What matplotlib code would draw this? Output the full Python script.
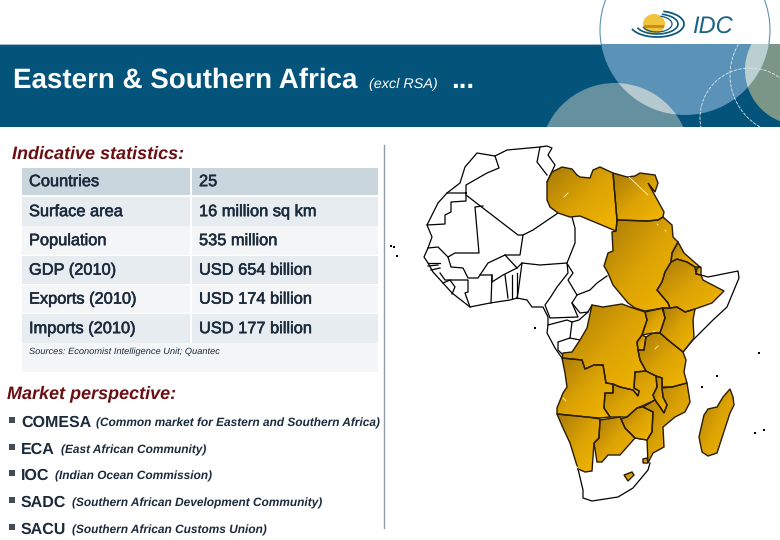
import numpy as np
import matplotlib
matplotlib.use("Agg")
import matplotlib.pyplot as plt
import matplotlib.patheffects as pe
from matplotlib.colors import LinearSegmentedColormap
from matplotlib.patches import Circle, Ellipse, Polygon, Rectangle

plt.rcParams["font.family"] = ["Liberation Sans", "DejaVu Sans"]
plt.rcParams["text.hinting"] = "no_hinting"

# slide text
TITLE = "Eastern & Southern Africa"
TITLE_NOTE = "(excl RSA)"
TABLE_HEADING = "Indicative statistics:"
STAT_LABELS = ["Countries", "Surface area", "Population", "GDP (2010)", "Exports (2010)", "Imports (2010)"]
STAT_VALUES = ["25", "16 million sq km", "535 million", "USD 654 billion", "USD 174 billion", "USD 177 billion"]
SOURCE = "Sources: Economist Intelligence Unit; Quantec"
MARKET_HEADING = "Market perspective:"
BLOCS = ["COMESA", "ECA", "IOC", "SADC", "SACU"]
BLOC_NAMES = ["(Common market for Eastern and Southern Africa)", "(East African Community)",
              "(Indian Ocean Commission)", "(Southern African Development Community)",
              "(Southern African Customs Union)"]

# map outlines in pixels
LIBYA = [(547,182),(552,172),(562,167),(572,169),(577,175),(580,177),(590,178),(593,170),(600,167),(613,173),
         (617,220),(616,231),(580,216),(570,217),(558,213),(550,207),(547,200)]
EGYPT = [(613,173),(627,177),(635,176),(640,173),(655,175),(658,183),(655,192),(648,183),(664,212),(663,217),
         (658,220),(647,221),(617,220)]
SUDAN = [(617,220),(647,221),(658,220),(663,217),(672,225),(673,237),(678,242),(672,253),(671,262),(665,272),
         (662,282),(657,290),(668,303),(670,308),(663,308),(645,311),(635,308),(628,303),(613,285),(608,273),
         (604,266),(608,253),(613,251),(612,232),(616,231)]
ERITREA = [(678,242),(684,253),(700,267),(695,267),(687,262),(677,259),(671,262),(672,253)]
DJIBOUTI = [(697,268),(701,267),(701,275),(696,274)]
ETHIOPIA = [(677,259),(687,262),(695,267),(696,274),(701,275),(703,280),(724,291),(712,303),(695,309),(685,312),
            (677,307),(670,308),(668,303),(657,290),(662,282),(665,272),(671,262)]
KENYA = [(662,308),(670,308),(677,307),(685,312),(695,309),(693,320),(694,338),(683,352),(668,340),(660,333),(665,318)]
UGANDA = [(645,312),(663,308),(665,318),(660,333),(653,333),(642,335),(647,320)]
RWANDA_BURUNDI = [(642,335),(646,337),(645,343),(644,350),(638,350),(637,342)]
DRC = [(592,305),(603,307),(622,304),(630,307),(645,312),(647,320),(642,335),(637,342),(638,350),(640,360),
       (646,371),(635,372),(634,388),(639,391),(638,396),(633,390),(620,387),(613,384),(606,383),(603,365),
       (594,365),(585,369),(582,360),(562,358),(563,353),(572,352),(580,340),(587,328)]
TANZANIA = [(660,333),(668,340),(683,352),(686,360),(684,372),(687,383),(672,387),(662,387),(662,378),(656,376),
            (646,371),(640,360),(638,350),(644,350),(645,343),(646,337),(653,333)]
ZAMBIA = [(635,372),(646,371),(656,376),(657,387),(653,395),(655,400),(642,406),(637,408),(627,417),(618,417),
          (610,417),(604,408),(605,393),(613,393),(613,384),(620,387),(633,390),(638,396),(639,391),(634,388)]
MALAWI = [(656,376),(662,378),(662,388),(663,397),(667,405),(664,413),(660,407),(655,400),(653,395),(657,387)]
MOZAMBIQUE = [(687,383),(690,402),(685,412),(675,417),(663,427),(664,447),(653,453),(648,463),(647,440),(652,432),
              (653,412),(643,407),(655,400),(660,407),(664,413),(667,405),(663,397),(662,388),(672,387)]
ZIMBABWE = [(643,407),(653,412),(652,432),(647,440),(635,438),(625,428),(621,419),(627,417),(637,408)]
BOTSWANA = [(600,420),(620,417),(621,419),(625,428),(635,438),(620,455),(608,455),(602,462),(597,462),(594,443),(599,438)]
NAMIBIA = [(557,414),(587,417),(600,419),(599,438),(594,443),(592,471),(585,472),(578,469),(570,443),(563,428)]
ANGOLA = [(562,358),(582,360),(585,369),(594,365),(603,365),(606,383),(613,384),(613,393),(605,393),(604,408),
          (610,417),(600,418),(587,417),(557,414),(557,408),(563,393),(567,387),(565,373)]
LESOTHO = [(624,475),(632,472),(634,475),(628,481)]
SWAZILAND = [(643,459),(647,458),(648,463),(643,463)]
MADAGASCAR = [(730,389),(733,397),(734,405),(730,413),(717,453),(708,456),(702,452),(699,437),(704,415),(708,409),
              (717,407),(723,397)]

# white countries, thin black lines only
WEST_LINES = [
    [(447,193),(460,183),(465,167),(477,153),(495,156),(507,150),(540,147),(547,146),(552,148),(548,155),(555,165),(547,182)],
    [(540,147),(537,162),(547,175)],
    [(495,156),(499,168),(487,173),(466,185),(466,201),(451,202),(451,212),(445,215),(445,224),(427,225),(438,203),(447,193),(466,193)],
    [(466,195),(518,235),(523,235),(533,230),(558,213)],
    [(483,206),(475,207),(479,253),(455,253),(448,257),(451,267),(463,268),(468,278),(478,278),(488,263),(505,255),(520,255),(523,235)],
    [(427,225),(432,237),(428,248),(438,247),(448,257)],
    [(428,248),(424,257),(428,263),(433,272),(443,283),(452,293),(470,307),(490,303),(510,300),(517,298),(527,300),(532,307),(543,307),(548,317),(548,325),(547,333),(555,348),(562,358)],
    [(505,255),(517,268),(522,263),(540,265),(567,263),(575,243),(575,228),(572,217)],
    [(480,275),(492,275),(492,282),(503,275),(517,268)],
    [(492,275),(491,303)],
    [(505,275),(508,298)],
    [(512,275),(512,298)],
    [(517,273),(517,298)],
    [(440,273),(445,280),(468,280),(468,292),(465,293),(470,307)],
    [(443,283),(450,280),(455,287),(452,294)],
    [(522,263),(518,293),(517,298)],
    [(567,263),(568,273),(557,287),(550,298),(545,305),(550,318),(578,317),(572,303),(577,295),(568,280),(573,273),(568,265)],
    [(577,295),(590,290),(597,283),(607,276)],
    [(572,303),(580,313),(588,312)],
    [(548,325),(567,320),(572,322),(570,338),(558,342),(558,350),(563,355)],
    [(572,322),(579,320),(588,312),(592,305)],
    [(570,338),(580,340)],
    [(428,263),(440,263)],
    [(428,266),(438,265)],
    [(431,270),(440,268)],
]
SOMALIA_LINE = [(701,275),(708,277),(738,271),(739,278),(727,307),(713,320),(693,340),(683,352)]
SOMALIA_WEST = [(693,310),(692,337)]
SOUTH_AFRICA_LINE = [(578,469),(583,490),(583,498),(592,501),(618,497),(633,488),(648,470),(650,463)]
SOUTH_AFRICA_TOP = [(635,438),(647,440)]
ISLANDS = [(391,246),(394,247),(397,256),(535,328),(759,353),(717,376),(702,387),(755,433),(764,430)]
WHITE_FLECKS = [[(564,197),(568,193)],[(629,177),(648,195)],[(657,224),(658,225)],[(665,230),(666,231)],
                [(655,349),(658,346)],[(563,398),(566,401)],[(572,462),(578,468)],[(653,332),(655,331)]]

COUNTRIES = [LIBYA, EGYPT, SUDAN, ERITREA, DJIBOUTI, ETHIOPIA, KENYA, UGANDA, RWANDA_BURUNDI, DRC, TANZANIA, ZAMBIA,
             MALAWI, MOZAMBIQUE, ZIMBABWE, BOTSWANA, NAMIBIA, ANGOLA, LESOTHO, SWAZILAND, MADAGASCAR]

NAVY = "#03537a"
MAROON = "#6b0f12"
TEXT = "#1b2b3c"
ROW_COLORS = ["#c9d6de", "#e7ecf0", "#f3f5f7", "#e7ecf0", "#f3f5f7", "#e7ecf0"]
ROW_TOPS = [168, 197, 226, 256, 285, 314]
ROW_BOTTOMS = [195, 226, 255, 284, 313, 343]
BLOC_Y = [421, 448, 474, 501, 528]
NOTE_X = [96, 61, 55, 72, 72]

fig = plt.figure(figsize=(7.8, 5.4), dpi=100)
ax = fig.add_axes([0, 0, 1, 1])
ax.axis("off")

# header band and its circles
ax.add_patch(Rectangle((0, 44), 780, 83, color=NAVY, lw=0, zorder=1))
ax.plot([0, 600], [44, 44], color="#9fb9c6", lw=0.8, zorder=1)
big = Circle((685, 30), 85, fc="#5a93b7", ec="none", zorder=2)
ax.add_patch(big)
ax.add_patch(Circle((615, 158), 75, fc="#64909f", ec="none", zorder=1.5))
ax.add_patch(Circle((800, 70), 55, fc="#7b9587", ec="none", zorder=1.5))
over1 = Circle((615, 158), 75, fc="#b5c9cf", ec="none", zorder=2.1)
ax.add_patch(over1)
over1.set_clip_path(big)
over2 = Circle((800, 70), 55, fc="#bccfd0", ec="none", zorder=2.1)
ax.add_patch(over2)
over2.set_clip_path(big)
ax.add_patch(Rectangle((0, 0), 780, 44, color="white", lw=0, zorder=3))
ax.add_patch(Rectangle((0, 127), 780, 413, color="white", lw=0, zorder=3))
band_clip = Rectangle((0, 44), 780, 83, transform=ax.transData)
for c, r in [((750, 118), 50), ((790, 75), 60)]:
    ring = Circle(c, r, fc="none", ec="#dfe9ee", lw=0.6, ls=(0, (4, 1.5)), zorder=2.5)
    ax.add_patch(ring)
    ring.set_clip_path(band_clip)
arc = Circle((685, 30), 85, fc="none", ec="#5f93ad", lw=0.8, zorder=3.1)
ax.add_patch(arc)
arc.set_clip_path(Rectangle((0, 0), 780, 44, transform=ax.transData))

# logo
ax.add_patch(Ellipse((654, 24), 22, 20, fc="#f2c33c", ec="none", zorder=4))
ax.add_patch(Rectangle((644, 25), 20, 3, fc="#c98f14", ec="none", zorder=4.1))
t = np.linspace(-1.3, 2.7, 50)
for rx, ry, w in [(15, 8, 0.9), (21, 10, 1.2), (27, 13, 1.3)]:
    ax.plot(657 + rx * np.cos(t), 24 + ry * np.sin(t), color="#0f5a7d", lw=w, zorder=4.2)
ax.text(692, 34, "IDC", color="#1c6485", fontsize=17, style="italic", va="baseline", zorder=5)

# title
ax.text(13, 88, TITLE, color="white", fontsize=20, fontweight="bold", zorder=5)
ax.text(369, 88, TITLE_NOTE, color="white", fontsize=10.4, style="italic", zorder=5)
ax.text(451, 88, "...", color="white", fontsize=20, fontweight="bold", zorder=5)

# left column
medium = [pe.withStroke(linewidth=0.4, foreground=TEXT)]
ax.text(12, 158.5, TABLE_HEADING, color=MAROON, fontsize=13, fontweight="bold", style="italic", zorder=5)
for top, bottom, color, label, value in zip(ROW_TOPS, ROW_BOTTOMS, ROW_COLORS, STAT_LABELS, STAT_VALUES):
    ax.add_patch(Rectangle((22, top), 168, bottom - top, color=color, lw=0, zorder=4))
    ax.add_patch(Rectangle((192, top), 186, bottom - top, color=color, lw=0, zorder=4))
    ax.text(29, (top + bottom) / 2 + 0.5, label, color=TEXT, fontsize=11.8, va="center", zorder=5, path_effects=medium)
    ax.text(199, (top + bottom) / 2 + 0.5, value, color=TEXT, fontsize=11.8, va="center", zorder=5, path_effects=medium)
ax.add_patch(Rectangle((22, 343), 356, 29, color="#f3f5f7", lw=0, zorder=4))
ax.text(29, 352, SOURCE, color=TEXT, fontsize=6.7, style="italic", va="center", zorder=5)
ax.plot([384, 384], [145, 528], color="#8f9ca5", lw=1, zorder=4)

ax.text(7, 398.5, MARKET_HEADING, color=MAROON, fontsize=13, fontweight="bold", style="italic", zorder=5)
for y, bloc, name, x in zip(BLOC_Y, BLOCS, BLOC_NAMES, NOTE_X):
    ax.add_patch(Rectangle((9, y - 4), 6, 6, color="#444c55", lw=0, zorder=5))
    ax.text(21, y + 2, bloc, color=TEXT, fontsize=11.5, fontweight="bold", va="center", zorder=5)
    ax.text(x, y + 2, name, color=TEXT, fontsize=8.6, fontweight="bold", style="italic", va="center", zorder=5)

# map, one golden gradient per country
gold = LinearSegmentedColormap.from_list("gold", ["#a87a08", "#dba204", "#f3b700"])
shade = np.add.outer(np.linspace(0, 1, 40), np.linspace(0, 1, 40)) / 2
for points in COUNTRIES:
    xs, ys = zip(*points)
    patch = Polygon(points, closed=True, fc="none", ec="#2b1c05", lw=1.0, zorder=6.5)
    im = ax.imshow(shade, cmap=gold, extent=(min(xs), max(xs), max(ys), min(ys)), aspect="auto", zorder=6,
                   interpolation="bilinear")
    ax.add_patch(patch)
    im.set_clip_path(patch)

for line in WEST_LINES + [SOMALIA_LINE, SOMALIA_WEST, SOUTH_AFRICA_LINE, SOUTH_AFRICA_TOP]:
    xs, ys = zip(*line)
    ax.plot(xs, ys, color="black", lw=0.9, zorder=5.5)
for line in WHITE_FLECKS:
    xs, ys = zip(*line)
    ax.plot(xs, ys, color="#fff4cc", lw=0.6, zorder=7)
xs, ys = zip(*ISLANDS)
ax.scatter(xs, ys, s=4, color="black", marker="s", lw=0, zorder=6)

ax.set_xlim(0, 780)
ax.set_ylim(540, 0)
fig.savefig("out.png", dpi=100)
